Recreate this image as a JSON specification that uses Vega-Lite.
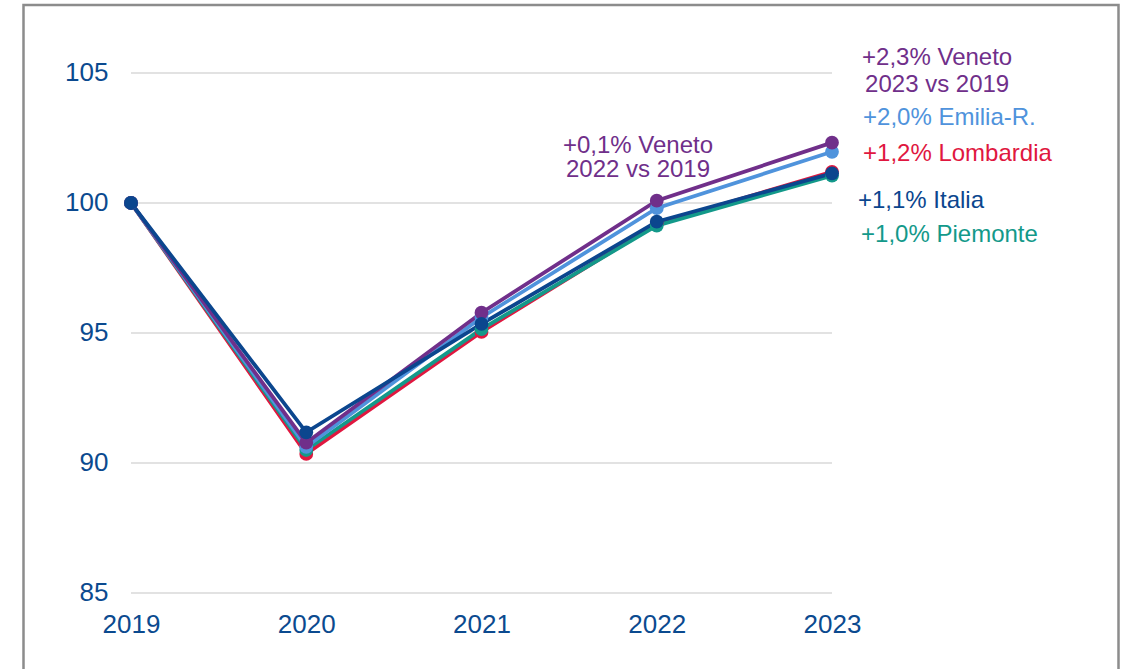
{
  "$schema": "https://vega.github.io/schema/vega-lite/v6.json",
  "width": 1095,
  "height": 674,
  "autosize": {"type": "none"},
  "padding": {"left": 23.5, "top": 5, "right": 5.5, "bottom": -10},
  "background": "white",
  "config": {
    "view": {"stroke": "#8c8c8c", "strokeWidth": 2.5},
    "font": "Liberation Sans"
  },
  "datasets": {
    "series": [
      {"series": "Lombardia", "year": 2019, "value": 100},
      {"series": "Lombardia", "year": 2020, "value": 90.35},
      {"series": "Lombardia", "year": 2021, "value": 95.04},
      {"series": "Lombardia", "year": 2022, "value": 99.2},
      {"series": "Lombardia", "year": 2023, "value": 101.2},
      {"series": "Piemonte", "year": 2019, "value": 100},
      {"series": "Piemonte", "year": 2020, "value": 90.5},
      {"series": "Piemonte", "year": 2021, "value": 95.15},
      {"series": "Piemonte", "year": 2022, "value": 99.13},
      {"series": "Piemonte", "year": 2023, "value": 101.05},
      {"series": "Emilia-R.", "year": 2019, "value": 100},
      {"series": "Emilia-R.", "year": 2020, "value": 90.62},
      {"series": "Emilia-R.", "year": 2021, "value": 95.6},
      {"series": "Emilia-R.", "year": 2022, "value": 99.8},
      {"series": "Emilia-R.", "year": 2023, "value": 101.97},
      {"series": "Veneto", "year": 2019, "value": 100},
      {"series": "Veneto", "year": 2020, "value": 90.78},
      {"series": "Veneto", "year": 2021, "value": 95.78},
      {"series": "Veneto", "year": 2022, "value": 100.09},
      {"series": "Veneto", "year": 2023, "value": 102.32},
      {"series": "Italia", "year": 2019, "value": 100},
      {"series": "Italia", "year": 2020, "value": 91.18},
      {"series": "Italia", "year": 2021, "value": 95.35},
      {"series": "Italia", "year": 2022, "value": 99.28},
      {"series": "Italia", "year": 2023, "value": 101.14}
    ],
    "grid": [{"y": 85}, {"y": 90}, {"y": 95}, {"y": 100}, {"y": 105}],
    "labels": [
      {"text": "+2,3% Veneto", "series": "Veneto", "x": 2023.6, "y": 105.577, "align": "center"},
      {"text": "2023 vs 2019", "series": "Veneto", "x": 2023.6, "y": 104.538, "align": "center"},
      {"text": "+0,1% Veneto", "series": "Veneto", "x": 2021.893, "y": 102.204, "align": "center"},
      {"text": "2022 vs 2019", "series": "Veneto", "x": 2021.893, "y": 101.269, "align": "center"},
      {"text": "+2,0% Emilia-R.", "series": "Emilia-R.", "x": 2023.177, "y": 103.269, "align": "left"},
      {"text": "+1,2% Lombardia", "series": "Lombardia", "x": 2023.177, "y": 101.885, "align": "left"},
      {"text": "+1,1% Italia", "series": "Italia", "x": 2023.148, "y": 100.077, "align": "left"},
      {"text": "+1,0% Piemonte", "series": "Piemonte", "x": 2023.166, "y": 98.769, "align": "left"}
    ]
  },
  "layer": [
    {
      "data": {"name": "grid"},
      "mark": {"type": "rule", "color": "#d9d9d9", "strokeWidth": 1.5},
      "encoding": {
        "x": {"datum": 2019, "type": "quantitative"},
        "x2": {"datum": 2023},
        "y": {"field": "y", "type": "quantitative"}
      }
    },
    {
      "data": {"name": "series"},
      "mark": {"type": "line", "strokeWidth": 3.8},
      "encoding": {
        "x": {
          "field": "year",
          "type": "quantitative",
          "scale": {"domain": [2018.3866, 2024.6348], "nice": false, "zero": false},
          "axis": {
            "values": [2019, 2020, 2021, 2022, 2023],
            "format": "d",
            "offset": -86,
            "domain": false,
            "ticks": false,
            "tickSize": 0,
            "grid": false,
            "labelPadding": 18,
            "labelFontSize": 26,
            "labelColor": "#0b4a8f",
            "labelFont": "Liberation Sans",
            "labelFlush": false,
            "title": null
          }
        },
        "y": {
          "field": "value",
          "type": "quantitative",
          "scale": {"domain": [81.692, 107.615], "nice": false, "zero": false},
          "axis": {
            "values": [85, 90, 95, 100, 105],
            "offset": -107.5,
            "domain": false,
            "ticks": false,
            "tickSize": 0,
            "grid": false,
            "labelPadding": 23,
            "labelFontSize": 26,
            "labelColor": "#0b4a8f",
            "labelFont": "Liberation Sans",
            "labelFlush": false,
            "title": null
          }
        },
        "color": {
          "field": "series",
          "type": "nominal",
          "scale": {
            "domain": ["Lombardia", "Piemonte", "Emilia-R.", "Veneto", "Italia"],
            "range": ["#e0173f", "#13998a", "#4f93dc", "#702f8a", "#0b468e"]
          },
          "legend": null
        }
      }
    },
    {
      "data": {"name": "series"},
      "mark": {"type": "point", "filled": true, "size": 190, "opacity": 1},
      "encoding": {
        "x": {"field": "year", "type": "quantitative"},
        "y": {"field": "value", "type": "quantitative"},
        "color": {"field": "series", "type": "nominal", "legend": null}
      }
    },
    {
      "data": {"name": "labels"},
      "transform": [{"filter": "datum.align === 'left'"}],
      "mark": {"type": "text", "align": "left", "baseline": "middle", "fontSize": 24, "font": "Liberation Sans"},
      "encoding": {
        "x": {"field": "x", "type": "quantitative"},
        "y": {"field": "y", "type": "quantitative"},
        "text": {"field": "text"},
        "color": {"field": "series", "type": "nominal", "legend": null}
      }
    },
    {
      "data": {"name": "labels"},
      "transform": [{"filter": "datum.align === 'center'"}],
      "mark": {"type": "text", "align": "center", "baseline": "middle", "fontSize": 24, "font": "Liberation Sans"},
      "encoding": {
        "x": {"field": "x", "type": "quantitative"},
        "y": {"field": "y", "type": "quantitative"},
        "text": {"field": "text"},
        "color": {"field": "series", "type": "nominal", "legend": null}
      }
    }
  ]
}
